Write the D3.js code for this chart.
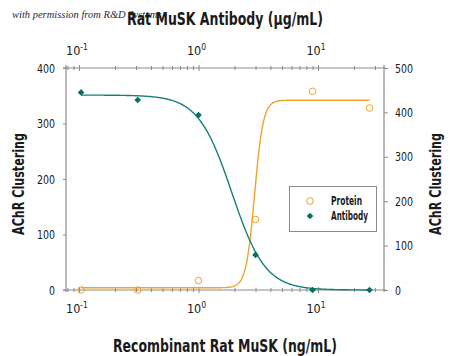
<!DOCTYPE html>
<html><head><meta charset="utf-8">
<script src="https://cdn.jsdelivr.net/npm/d3@7"></script>
<style>
body{margin:0;background:#fff;}
svg{display:block;}
</style></head>
<body>
<svg id="chart" width="450" height="356"></svg>
<script>
// ---- data ----
const concentrations = [0.104, 0.31, 1, 3, 9, 27];          // x positions (log)
const proteinValues  = [0, 0, 17, 127, 358, 328];            // left axis (0-400)
const antibodyValues = [445, 428, 394, 79, 0, 0];            // right axis (0-500)
const proteinFit  = {bottom: 4, top: 342, ec50: 2.95, hill: -12};
const antibodyFit = {bottom: 0, top: 439, ec50: 1.9, hill: 3.1};
const leftTicks  = [0, 100, 200, 300, 400];
const rightTicks = [0, 100, 200, 300, 400, 500];
const logTickExps = [-1, 0, 1];
const seriesNames = ["Protein", "Antibody"];

const m = {l: 66, r: 384, t: 68, b: 290};
const orange = "#f2a22a", teal = "#16807a", tealDark = "#0b6e62", axisCol = "#8c8c8c", txt = "#1a1a1a";
const svg = d3.select("#chart");
const tfont = "'DejaVu Sans Condensed','DejaVu Sans',sans-serif";

const x = d3.scaleLog().domain([0.0778, 35.7]).range([m.l, m.r]);
const yL = d3.scaleLinear().domain([0, 400]).range([m.b, m.t]);
const yR = d3.scaleLinear().domain([0, 500]).range([m.b, m.t]);

// watermark
svg.append("text").attr("x", 12).attr("y", 18)
  .attr("font-family", "'Liberation Serif','DejaVu Serif',serif").attr("font-style", "italic")
  .attr("font-size", 10.5).attr("fill", "#2a2a3a").text("with permission from R&D Systems");

// titles (narrow look via textLength)
function title(sel, len, size){
  return sel.attr("text-anchor", "middle").attr("font-family", tfont).attr("font-weight", "bold")
    .attr("font-size", size).attr("fill", txt).attr("textLength", len).attr("lengthAdjust", "spacingAndGlyphs");
}
title(svg.append("text").attr("x", 225).attr("y", 25), 196, 18.5).text("Rat MuSK Antibody (\u00b5g/mL)");
title(svg.append("text").attr("x", 225).attr("y", 352), 224, 18.5).text("Recombinant Rat MuSK (ng/mL)");
title(svg.append("text").attr("transform", "translate(24,184) rotate(-90)"), 102, 16).text("AChR Clustering");
title(svg.append("text").attr("transform", "translate(441,184) rotate(-90)"), 102, 16).text("AChR Clustering");

// axes
function styleAxis(g){
  g.select(".domain").attr("stroke", axisCol).attr("stroke-width", 1.2);
  g.selectAll(".tick line").attr("stroke", axisCol);
  g.selectAll(".tick text").attr("fill", txt).attr("font-family", tfont).attr("font-size", 13)
    .attr("textLength", function(){ return this.textContent.length * 6; })
    .attr("lengthAdjust", "spacingAndGlyphs");
}
const allLogTicks = [];
for (let e = -2; e <= 1; e++) for (let k = 1; k <= 9; k++) {
  const v = k * Math.pow(10, e);
  if (v >= x.domain()[0] && v <= x.domain()[1]) allLogTicks.push(v);
}
function logAxis(gen, yPos){
  const g = svg.append("g").attr("transform", `translate(0,${yPos})`)
    .call(gen.tickValues(allLogTicks).tickSizeOuter(0).tickSize(0).tickFormat(""));
  g.select(".domain").attr("d", `M${m.l-3},0H${m.r+2}`);
  g.selectAll(".tick line").each(function(d){
    const isMaj = logTickExps.some(e => Math.abs(Math.pow(10, e) - d) < 1e-9);
    d3.select(this).attr("y1", isMaj ? -3 : -2).attr("y2", isMaj ? 3 : 2);
  });
  styleAxis(g);
  return g;
}
logAxis(d3.axisBottom(x), m.b);
logAxis(d3.axisTop(x), m.t);

function powLabels(yPos){
  logTickExps.forEach(e => {
    const t = svg.append("text").attr("x", x(Math.pow(10, e)) - 2).attr("y", yPos)
      .attr("text-anchor", "middle").attr("font-family", tfont).attr("font-size", 12.5).attr("fill", txt);
    t.append("tspan").text("10");
    t.append("tspan").attr("dy", -5).attr("font-size", 8.5).text(String(e));
  });
}
powLabels(313);
powLabels(55);

const gl = svg.append("g").attr("transform", `translate(${m.l},0)`)
  .call(d3.axisLeft(yL).tickValues(leftTicks).tickSize(3).tickSizeOuter(0).tickPadding(8));
gl.select(".domain").attr("d", `M0,${m.t-3}V${m.b+2}`);
styleAxis(gl);
const gr = svg.append("g").attr("transform", `translate(${m.r},0)`)
  .call(d3.axisRight(yR).tickValues(rightTicks).tickSize(4).tickSizeOuter(0).tickPadding(7));
gr.select(".domain").attr("d", `M0,${m.t-3}V${m.b+2}`);
styleAxis(gr);

// fitted curves (4-parameter logistic from the fit parameters above)
function fourPL(p, c){ return p.bottom + (p.top - p.bottom) / (1 + Math.pow(c / p.ec50, p.hill)); }
const c0 = concentrations[0], c1 = concentrations[concentrations.length - 1];
const samples = d3.range(0, 401).map(i => Math.exp(Math.log(c0) + (Math.log(c1) - Math.log(c0)) * i / 400));
svg.append("path").datum(samples).attr("fill", "none").attr("stroke", orange).attr("stroke-width", 1.4)
  .attr("d", d3.line().x(c => x(c)).y(c => yL(fourPL(proteinFit, c))));
svg.append("path").datum(samples).attr("fill", "none").attr("stroke", teal).attr("stroke-width", 1.4)
  .attr("d", d3.line().x(c => x(c)).y(c => yR(fourPL(antibodyFit, c))));

// points
svg.append("g").selectAll("circle").data(concentrations).join("circle")
  .attr("cx", (c) => x(c)).attr("cy", (c, i) => yL(proteinValues[i])).attr("r", 3.3)
  .attr("fill", "none").attr("stroke", orange).attr("stroke-width", 1);
const diamond = d3.symbol().type(d3.symbolSquare).size(22);
svg.append("g").selectAll("path").data(concentrations).join("path")
  .attr("transform", (c, i) => `translate(${x(c)},${yR(antibodyValues[i])}) rotate(45)`)
  .attr("d", diamond).attr("fill", tealDark);

// legend
const lg = svg.append("g");
lg.append("rect").attr("x", 289.5).attr("y", 186.5).attr("width", 87).attr("height", 45)
  .attr("fill", "#fff").attr("stroke", "#8a8a8a").attr("stroke-width", 1);
lg.append("circle").attr("cx", 310).attr("cy", 201).attr("r", 3.3).attr("fill", "none")
  .attr("stroke", orange).attr("stroke-width", 1);
lg.append("path").attr("transform", "translate(310,216) rotate(45)").attr("d", diamond).attr("fill", tealDark);
const legendLens = [31, 37];
seriesNames.forEach((n, i) => {
  lg.append("text").attr("x", 331).attr("y", 205 + i * 15).attr("font-family", tfont)
    .attr("font-weight", "bold").attr("font-size", 12).attr("fill", txt)
    .attr("textLength", legendLens[i]).attr("lengthAdjust", "spacingAndGlyphs").text(n);
});
</script>
</body></html>
